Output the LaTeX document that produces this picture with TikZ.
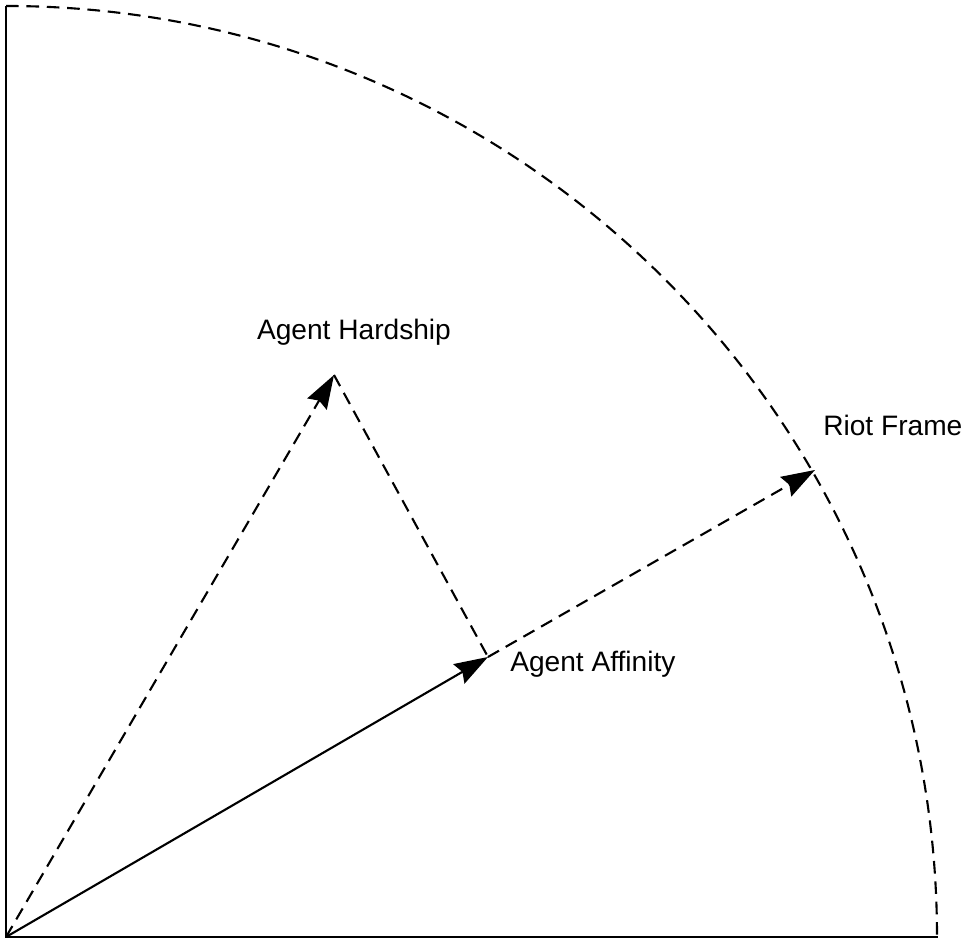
\documentclass[tikz,border=0pt]{standalone}
\usepackage{fontspec}
\setmainfont{Liberation Sans}
\usetikzlibrary{arrows.meta,calc}

\begin{document}
\begin{tikzpicture}[
  x=0.025cm,y=0.025cm,
  >={Stealth[length=8.4mm,width=5.6mm,inset=1mm]},
  font=\fontsize{20}{24}\selectfont,
  axis/.style={line width=1.6pt},
  vec/.style={line width=1.5pt},
  dashvec/.style={line width=1.5pt,dash pattern=on 9pt off 5.5pt},
  lbl/.style={inner sep=0pt}]
  \useasboundingbox (-6,-7) rectangle (968,937);
  \coordinate (O) at (0,0);
  \coordinate (H) at (328,562);
  \coordinate (A) at (482,280);
  \coordinate (F) at (809,467);
  \coordinate (ytop) at (0,931);
  \coordinate (xend) at (932,0);
  % axes and frame arc
  \draw[axis] (ytop) -- (O) -- (xend);
  \draw[dashvec] (ytop) arc[start angle=90,end angle=0,radius=931];
  % vectors
  \draw[vec,->] (O) -- (A);
  \draw[dashvec,->] (O) -- (H);
  \draw[dashvec] (H) -- (A);
  \draw[dashvec,->] (A) -- (F);
  % labels
  \node[lbl] (hardlbl) at ($(H)+(20,43)$) {Agent Hardship};
  \node[lbl,anchor=west] (afflbl) at ($(A)+(22,-7)$) {Agent Affinity};
  \node[lbl,anchor=west] (riotlbl) at ($(F)+(8,45)$) {Riot Frame};
\end{tikzpicture}
\end{document}
